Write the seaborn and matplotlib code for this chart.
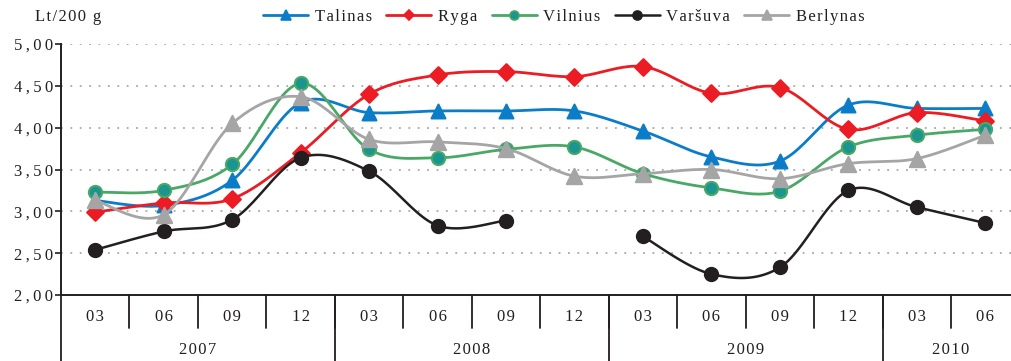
import numpy as np
import pandas as pd
import matplotlib
matplotlib.use("Agg")
import matplotlib.pyplot as plt
from matplotlib.lines import Line2D
from matplotlib.ticker import FuncFormatter, MultipleLocator
import seaborn as sns

# Quarterly price data (Lt per 200 g)
years = ["2007", "2008", "2009", "2010"]
months = ["03", "06", "09", "12", "03", "06", "09", "12",
          "03", "06", "09", "12", "03", "06"]
talinas = [3.13, 3.07, 3.37, 4.30, 4.18, 4.20, 4.20, 4.20, 3.96, 3.65, 3.60, 4.27, 4.23, 4.23]
ryga = [2.99, 3.10, 3.15, 3.70, 4.40, 4.63, 4.67, 4.61, 4.73, 4.41, 4.48, 3.98, 4.18, 4.08]
vilnius = [3.23, 3.25, 3.56, 4.53, 3.74, 3.64, 3.74, 3.77, 3.45, 3.28, 3.24, 3.77, 3.91, 3.98]
varsuva = [2.54, 2.76, 2.90, 3.64, 3.48, 2.83, 2.89, np.nan, 2.70, 2.25, 2.33, 3.25, 3.05, 2.86]
berlynas = [3.13, 2.96, 4.05, 4.37, 3.86, 3.83, 3.75, 3.42, 3.45, 3.50, 3.39, 3.57, 3.63, 3.91]

series = [
    ("Talinas", talinas, dict(color="#0b7dc8", marker="^", ms=10, mfc="#0b7dc8", mec="#0b7dc8", lw=2.0, lms=7)),
    ("Ryga", ryga, dict(color="#ec1c24", marker="D", ms=8.5, mfc="#ec1c24", mec="#ec1c24", lw=2.0, lms=5.5)),
    ("Vilnius", vilnius, dict(color="#4aa866", marker="o", ms=9.5, mfc="#1b958f", mec="#4aa866", lw=2.0, lms=6.5)),
    ("Varšuva", varsuva, dict(color="#231f20", marker="o", ms=9.5, mfc="#231f20", mec="#231f20", lw=1.8, lms=6.5)),
    ("Berlynas", berlynas, dict(color="#a5a5a5", marker="^", ms=11, mfc="#a5a5a5", mec="#a5a5a5", lw=2.0, lms=7)),
]

sns.set_theme(style="white")
plt.rcParams["font.family"] = ["Liberation Serif", "DejaVu Serif"]
plt.rcParams["font.size"] = 12

HAIR = "\u200a"
THIN = "\u2009"


def tracked(s, sp=HAIR):
    """Open up letter spacing by inserting narrow spaces between characters."""
    return sp.join(s)


def smooth_segment(xs, ys, n=24):
    """Bezier smoothing through consecutive points (spreadsheet-style)."""
    pts = np.column_stack([xs, ys])
    if len(pts) < 2:
        return xs, ys
    out = [pts[0]]
    for i in range(len(pts) - 1):
        p0 = pts[i - 1] if i > 0 else pts[i]
        p1 = pts[i]
        p2 = pts[i + 1]
        p3 = pts[i + 2] if i + 2 < len(pts) else pts[i + 1]
        c1 = p1 + (p2 - p0) / 6.0
        c2 = p2 - (p3 - p1) / 6.0
        t = np.linspace(0, 1, n)[1:, None]
        seg = ((1 - t) ** 3) * p1 + 3 * ((1 - t) ** 2) * t * c1 + 3 * (1 - t) * t ** 2 * c2 + t ** 3 * p2
        out.extend(seg)
    out = np.array(out)
    return out[:, 0], out[:, 1]


fig = plt.figure(figsize=(10.12, 3.61), dpi=100)
ax = fig.add_axes([61 / 1012, 66 / 361, 1 - 61 / 1012, 251 / 361])

x = np.arange(len(months))
for z, (name, vals, st) in enumerate(series):
    v = np.array(vals, dtype=float)
    ok = ~np.isnan(v)
    # split into contiguous runs around missing values
    runs, cur = [], []
    for i in range(len(v)):
        if ok[i]:
            cur.append(i)
        elif cur:
            runs.append(cur)
            cur = []
    if cur:
        runs.append(cur)
    for r in runs:
        sx, sy = smooth_segment(x[r].astype(float), v[r])
        sns.lineplot(x=sx, y=sy, sort=False, ax=ax, color=st["color"], lw=st["lw"],
                     zorder=3 + 2 * z, estimator=None)
    df = pd.DataFrame({"x": x[ok], "y": v[ok]})
    sns.scatterplot(data=df, x="x", y="y", ax=ax, marker=st["marker"], s=st["ms"] ** 2,
                    color=st["mfc"], edgecolor=st["mec"], linewidth=1.5, zorder=4 + 2 * z)

ax.set_xlim(-0.5, 13.39)
ax.set_ylim(2.0, 5.0)
ax.yaxis.set_major_locator(MultipleLocator(0.5))
ax.yaxis.set_major_formatter(FuncFormatter(lambda v, p: tracked(f"{v:.2f}".replace(".", ","), THIN)))
for yv in np.arange(2.5, 5.01, 0.5):
    ax.axhline(yv, color="#a8a8a8", lw=1.3, ls=(0, (1, 4.2)), zorder=1)

ax.set_xticks([])
ax.set_xlabel("")
ax.set_ylabel("")
ax.tick_params(axis="y", left=True, length=4, width=1.2, color="#231f20",
               labelsize=12, labelcolor="#231f20", pad=1.5)
for s in ["top", "right"]:
    ax.spines[s].set_visible(False)
for s in ["left", "bottom"]:
    ax.spines[s].set_color("#231f20")
    ax.spines[s].set_linewidth(1.4)

# Category table under the axis
trans = ax.get_xaxis_transform()
for i, m in enumerate(months):
    ax.text(i, -0.088, tracked(m), transform=trans, ha="center", va="center",
            fontsize=12, color="#231f20")
for k in range(len(months) - 1):
    ax.add_line(Line2D([k + 0.5, k + 0.5], [0, -0.132], transform=trans,
                       color="#231f20", lw=1.3, clip_on=False))
for b in [-0.5, 3.5, 7.5, 11.5]:
    ax.add_line(Line2D([b, b], [0, -0.27], transform=trans,
                       color="#231f20", lw=1.3, clip_on=False))
year_centers = [1.5, 5.5, 9.5, 12.5]
for yc, yr in zip(year_centers, years):
    ax.text(yc, -0.22, tracked(yr), transform=trans, ha="center", va="center",
            fontsize=12, color="#231f20")

fig.text(35 / 1012, 1 - 17 / 361, tracked("Lt/200 g"), ha="left", va="center",
         fontsize=12, color="#231f20")

handles = [Line2D([0], [0], color=st["color"], lw=st["lw"], marker=st["marker"],
                  markersize=st["lms"], markerfacecolor=st["mfc"],
                  markeredgecolor=st["mec"], markeredgewidth=1.2)
           for _, _, st in series]
labels = [tracked(n) for n, _, _ in series]
fig.legend(handles, labels, loc="center", bbox_to_anchor=(564 / 1012, 1 - 17 / 361),
           ncol=5, frameon=False, fontsize=12, handlelength=2.7, handletextpad=0.4,
           columnspacing=0.85, labelcolor="#231f20")

fig.savefig("out.png", dpi=100)
